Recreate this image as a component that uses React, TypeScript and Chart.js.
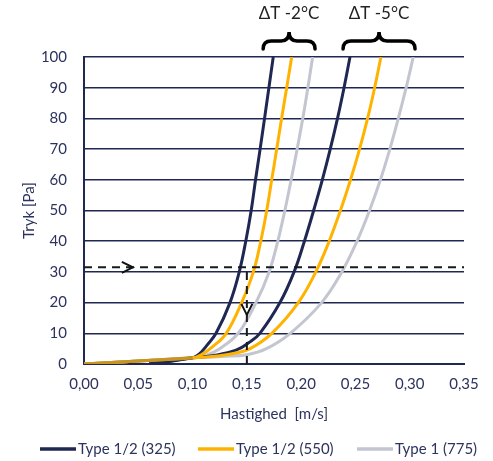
import React, { useEffect, useRef } from "react";
import { Chart, registerables } from "chart.js";

Chart.register(...registerables);

// ---- data ----
const navyDT2V = [0.06, 0.10, 0.106, 0.113, 0.1216, 0.1345, 0.143, 0.149, 0.154, 0.158, 0.1622, 0.1663, 0.1703, 0.1743];
const navyDT2P = [0, 2, 3.2, 6, 10, 20, 30, 40, 50, 60, 70, 80, 90, 100];

const yellowDT2V = [0, 0.05, 0.10, 0.108, 0.118, 0.131, 0.1452, 0.156, 0.1628, 0.1683, 0.1729, 0.1775, 0.182, 0.1867, 0.1913];
const yellowDT2P = [0, 1, 2, 3, 5.5, 10, 20, 30, 40, 50, 60, 70, 80, 90, 100];

const grayDT2V = [0, 0.05, 0.10, 0.112, 0.125, 0.142, 0.1584, 0.1705, 0.1785, 0.185, 0.1908, 0.1963, 0.2015, 0.2062, 0.2106];
const grayDT2P = [0, 1, 2, 2.8, 5, 10, 20, 30, 40, 50, 60, 70, 80, 90, 100];

const navyDT5V = [0.06, 0.10, 0.12, 0.14, 0.152, 0.162, 0.1805, 0.1935, 0.203, 0.2115, 0.2195, 0.2268, 0.2335, 0.2395, 0.245];
const navyDT5P = [0, 2, 2.8, 4.5, 7, 10, 20, 30, 40, 50, 60, 70, 80, 90, 100];

const yellowDT5V = [0, 0.05, 0.10, 0.125, 0.14, 0.153, 0.173, 0.1974, 0.2135, 0.2258, 0.2362, 0.2455, 0.2538, 0.2612, 0.2677, 0.2735];
const yellowDT5P = [0, 1, 2, 2.7, 3.6, 5, 10, 20, 30, 40, 50, 60, 70, 80, 90, 100];

const grayDT5V = [0, 0.05, 0.10, 0.13, 0.15, 0.168, 0.19, 0.2189, 0.2375, 0.2515, 0.263, 0.273, 0.2817, 0.2895, 0.2967, 0.3033];
const grayDT5P = [0, 1, 2, 2.5, 3, 5, 10, 20, 30, 40, 50, 60, 70, 80, 90, 100];

const seriesNames = ["Type 1/2 (325)", "Type 1/2 (550)", "Type 1 (775)"];

const readingPressure = 31.5;
const readingVelocity = 0.15;
const hLineV = [0, 0.35];
const vLineP = [0, readingPressure];

const arrowRight = { v: 0.045, p: readingPressure };
const arrowDown = { v: readingVelocity, p: 16 };

const braceGroups = [
  { label: "ΔT -2°C", from: 0.165, to: 0.2128 },
  { label: "ΔT -5°C", from: 0.2386, to: 0.3049 },
];

const xTicksMin = 0;
const xTicksMax = 0.35;
const xStep = 0.05;
const yTicksMin = 0;
const yTicksMax = 100;
const yStep = 10;

const NAVY = "#1f2753";
const YELLOW = "#ffb300";
const GRAY = "#c3c5d0";
const SHARED = "#c8951e";
const TEXT = "#2b335e";
const FONT = "Lato, 'Open Sans', sans-serif";

// legend layout (pixel positions of the line samples)
const legendY = 449;
const legendStarts = [40, 198, 357];
const legendLineLen = 36;

const pts = (vs: number[], ps: number[]) => vs.map((v, i) => ({ x: v, y: ps[i] }));

const annotations = {
  id: "annotations",
  afterDatasetsDraw(chart: any) {
    const { ctx, scales } = chart;
    const xs = scales.x;
    const ys = scales.y;
    ctx.save();
    // arrows
    ctx.strokeStyle = "#111";
    ctx.lineWidth = 2;
    let ax = xs.getPixelForValue(arrowRight.v);
    let ay = ys.getPixelForValue(arrowRight.p);
    ctx.beginPath();
    ctx.moveTo(ax - 11, ay - 5.5);
    ctx.lineTo(ax, ay);
    ctx.lineTo(ax - 11, ay + 5.5);
    ctx.stroke();
    ax = xs.getPixelForValue(arrowDown.v);
    ay = ys.getPixelForValue(arrowDown.p);
    ctx.beginPath();
    ctx.moveTo(ax - 5.5, ay - 11);
    ctx.lineTo(ax, ay);
    ctx.lineTo(ax + 5.5, ay - 11);
    ctx.stroke();

    // braces + labels
    ctx.strokeStyle = "#000";
    ctx.lineWidth = 3.5;
    ctx.lineCap = "round";
    const yb = 49, ym = 41, yt = 32, r = 8;
    braceGroups.forEach((g) => {
      const x1 = xs.getPixelForValue(g.from);
      const x2 = xs.getPixelForValue(g.to);
      const xc = (x1 + x2) / 2;
      ctx.beginPath();
      ctx.moveTo(x1, yb);
      ctx.quadraticCurveTo(x1, ym, x1 + r, ym);
      ctx.lineTo(xc - r, ym);
      ctx.quadraticCurveTo(xc, ym, xc, yt);
      ctx.quadraticCurveTo(xc, ym, xc + r, ym);
      ctx.lineTo(x2 - r, ym);
      ctx.quadraticCurveTo(x2, ym, x2, yb);
      ctx.stroke();
      ctx.fillStyle = "#222";
      ctx.font = `17px ${FONT}`;
      ctx.textAlign = "center";
      ctx.textBaseline = "middle";
      ctx.fillText(g.label, xc, 14);
    });

    // legend
    ctx.lineCap = "butt";
    ctx.font = `15px ${FONT}`;
    ctx.textAlign = "left";
    ctx.textBaseline = "middle";
    for (let i = 0; i < 3; i++) {
      const ds = chart.data.datasets[i];
      const x0 = legendStarts[i];
      ctx.strokeStyle = ds.borderColor;
      ctx.lineWidth = 3.5;
      ctx.beginPath();
      ctx.moveTo(x0, legendY);
      ctx.lineTo(x0 + legendLineLen, legendY);
      ctx.stroke();
      ctx.fillStyle = TEXT;
      ctx.fillText(ds.label, x0 + legendLineLen + 2, legendY);
    }
    ctx.restore();
  },
};

export default function App() {
  const ref = useRef<HTMLCanvasElement>(null);
  useEffect(() => {
    if (!ref.current) return;
    const curve = (label: string, data: any[], color: string, order: number, shared = false) => ({
      label,
      data,
      borderColor: color,
      backgroundColor: color,
      borderWidth: 3,
      pointRadius: 0,
      fill: false,
      order,
      tension: 0.4,
      segment: shared
        ? { borderColor: (c: any) => (c.p1.parsed.y <= 2 ? SHARED : undefined) }
        : undefined,
    });
    const chart = new Chart(ref.current, {
      type: "line",
      data: {
        datasets: [
          curve(seriesNames[0], pts(navyDT2V, navyDT2P), NAVY, 1),
          curve(seriesNames[1], pts(yellowDT2V, yellowDT2P), YELLOW, 0, true),
          curve(seriesNames[2], pts(grayDT2V, grayDT2P), GRAY, 2),
          curve(seriesNames[0], pts(navyDT5V, navyDT5P), NAVY, 1),
          curve(seriesNames[1], pts(yellowDT5V, yellowDT5P), YELLOW, 0, true),
          curve(seriesNames[2], pts(grayDT5V, grayDT5P), GRAY, 2),
          {
            label: "h",
            data: hLineV.map((v) => ({ x: v, y: readingPressure })),
            borderColor: "#1a1a1a",
            borderWidth: 2,
            borderDash: [8, 6],
            pointRadius: 0,
            order: -1,
          },
          {
            label: "v",
            data: vLineP.map((p) => ({ x: readingVelocity, y: p })),
            borderColor: "#1a1a1a",
            borderWidth: 2,
            borderDash: [8, 6],
            pointRadius: 0,
            order: -1,
          },
        ] as any,
      },
      options: {
        animation: false,
        responsive: false,
        maintainAspectRatio: false,
        layout: { padding: { top: 57, right: 29, left: 0, bottom: 0 } },
        plugins: {
          tooltip: { enabled: false },
          legend: { display: false },
        },
        scales: {
          x: {
            type: "linear",
            min: xTicksMin,
            max: xTicksMax,
            afterFit: (s: any) => {
              s.height = 97;
            },
            ticks: {
              stepSize: xStep,
              color: TEXT,
              padding: 11,
              font: { family: FONT, size: 15 },
              maxRotation: 0,
              callback: (v: any) => (Math.round(Number(v) * 100) / 100).toFixed(2).replace(".", ","),
            },
            grid: { display: false, drawTicks: false },
            border: { display: true, color: NAVY, width: 2 },
            title: {
              display: true,
              text: "Hastighed  [m/s]",
              color: TEXT,
              font: { family: FONT, size: 15 },
              padding: { top: 0, bottom: 38 },
            },
          },
          y: {
            type: "linear",
            min: yTicksMin,
            max: yTicksMax,
            afterFit: (s: any) => {
              s.width = 84;
            },
            ticks: {
              stepSize: yStep,
              color: TEXT,
              padding: 17,
              font: { family: FONT, size: 15 },
            },
            grid: { color: NAVY, lineWidth: 1.5, drawTicks: false },
            border: { display: true, color: NAVY, width: 2 },
            title: {
              display: true,
              text: "Tryk [Pa]",
              color: TEXT,
              font: { family: FONT, size: 15 },
              padding: { top: 20, bottom: 0 },
            },
          },
        },
      },
      plugins: [annotations],
    });
    return () => chart.destroy();
  }, []);
  return (
    <div style={{ position: "fixed", left: 0, top: 0, width: 493, height: 461, background: "#fff" }}>
      <canvas ref={ref} width={493} height={461} style={{ width: 493, height: 461 }} />
    </div>
  );
}
